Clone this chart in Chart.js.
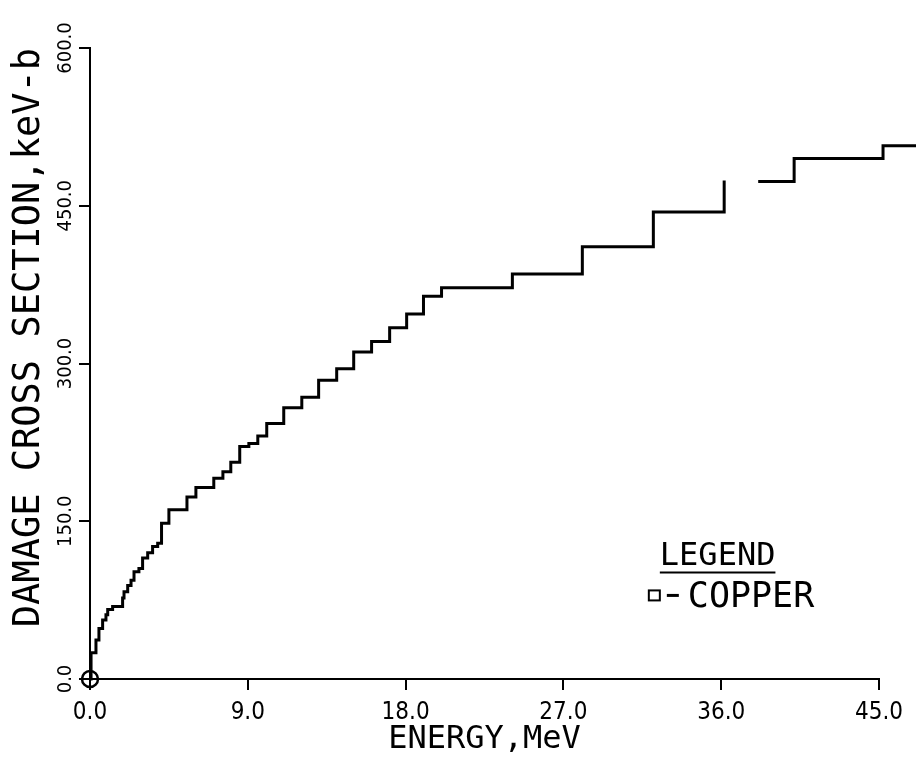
<!DOCTYPE html>
<html>
<head>
<meta charset="utf-8">
<title>Damage cross section - copper</title>
<script src="https://cdn.jsdelivr.net/npm/chart.js@4.4.1/dist/chart.umd.min.js"></script>
<style>
  html, body { margin: 0; padding: 0; background: #fff; }
  #chart { display: block; }
</style>
</head>
<body>
<canvas id="chart" width="916" height="765"></canvas>
<script>
// step positions (MeV) and the value reached after each step (keV-b)
const energyMeV = [0, 0.06, 0.34, 0.51, 0.72, 0.91, 1.01, 1.29, 1.86, 1.94, 2.15, 2.34, 2.51, 2.79,
  3.00, 3.29, 3.57, 3.86, 4.08, 4.50, 5.53, 6.04, 7.06, 7.58, 8.03, 8.54, 9.06, 9.57, 10.08,
  11.05, 12.08, 13.04, 14.07, 15.04, 16.06, 17.09, 18.06, 19.02, 20.05, 24.09, 28.08, 32.13,
  36.17, 37.10, 38.11, 40.16, 45.23, 47.20];
const copperDamage = [0, 25, 37, 48, 56, 61, 66, 69, 77, 83, 89, 94, 102, 105,
  115, 120, 126, 129, 148, 161, 173, 182, 191, 197, 206, 221, 224, 231, 243,
  258, 268, 284, 295, 311, 321, 334, 347, 364, 372, 385, 411, 444,
  474, null, 473, 495, 507, 507];

const xTicks = [0, 9, 18, 27, 36, 45];
const yTicks = [0, 150, 300, 450, 600];

const tickFamily = '"DejaVu Sans Condensed", "Liberation Sans Narrow", "DejaVu Sans", sans-serif';
const monoFamily = '"DejaVu Sans Mono", monospace';

const points = energyMeV.map((e, i) => ({ x: e, y: copperDamage[i] }));

// the little "LEGEND / - COPPER" box inside the plot
const legendBox = {
  id: 'legendBox',
  afterDatasetsDraw(chart) {
    const { ctx, scales: { x, y } } = chart;
    const left = x.getPixelForValue(32.5);
    const base = y.getPixelForValue(108);
    ctx.save();
    ctx.fillStyle = '#000';
    ctx.strokeStyle = '#000';
    ctx.textBaseline = 'alphabetic';
    ctx.textAlign = 'left';
    ctx.font = '32px ' + monoFamily;
    ctx.fillText('LEGEND', left, base);
    const w = ctx.measureText('LEGEND').width;
    ctx.lineWidth = 2;
    ctx.beginPath();
    ctx.moveTo(left, base + 7);
    ctx.lineTo(left + w, base + 7);
    ctx.stroke();
    ctx.strokeRect(left - 11, base + 25, 11, 10);
    ctx.lineWidth = 3;
    ctx.beginPath();
    ctx.moveTo(left + 7, base + 30);
    ctx.lineTo(left + 19, base + 30);
    ctx.stroke();
    ctx.font = '35px ' + monoFamily;
    ctx.fillText(chart.data.datasets[0].label, left + 28, base + 42);
    ctx.restore();
  }
};

new Chart(document.getElementById('chart'), {
  type: 'line',
  data: {
    datasets: [{
      label: 'COPPER',
      data: points,
      stepped: 'before',
      borderColor: '#000',
      borderWidth: 3,
      fill: false,
      spanGaps: false,
      clip: false,
      pointStyle: 'circle',
      pointRadius: ctx => ctx.dataIndex === 0 ? 8 : 0,
      pointBorderWidth: 2.5,
      pointBorderColor: '#000',
      pointBackgroundColor: 'rgba(0,0,0,0)'
    }]
  },
  options: {
    responsive: false,
    devicePixelRatio: 1,
    animation: false,
    layout: { padding: { left: 0, top: 48, right: 37, bottom: 0 } },
    plugins: {
      legend: { display: false },
      tooltip: { enabled: false }
    },
    scales: {
      x: {
        type: 'linear',
        // range set here (not as min/max options) so the tail past 45 MeV is still drawn
        afterDataLimits: s => { s.min = 0; s.max = 45; },
        afterBuildTicks: s => { s.ticks = xTicks.map(v => ({ value: v })); },
        afterFit: s => { s.height = 86; },
        border: { display: true, color: '#000', width: 2 },
        grid: { drawOnChartArea: false, drawTicks: true, tickLength: 11, color: '#000', lineWidth: 2 },
        ticks: {
          color: '#000',
          padding: 8,
          maxRotation: 0,
          font: { family: tickFamily, size: 24 },
          callback: v => v.toFixed(1)
        },
        title: {
          display: true,
          text: 'ENERGY,MeV',
          color: '#000',
          font: { family: monoFamily, size: 32 },
          padding: { top: 0, bottom: 6 }
        }
      },
      y: {
        type: 'linear',
        afterDataLimits: s => { s.min = 0; s.max = 600; },
        afterBuildTicks: s => { s.ticks = yTicks.map(v => ({ value: v })); },
        afterFit: s => { s.width = 90; },
        border: { display: true, color: '#000', width: 2 },
        grid: { drawOnChartArea: false, drawTicks: true, tickLength: 11, color: '#000', lineWidth: 2 },
        ticks: {
          color: '#000',
          minRotation: 90,
          maxRotation: 90,
          crossAlign: 'center',
          padding: -13,
          font: { family: tickFamily, size: 20 },
          callback: v => v.toFixed(1)
        },
        title: {
          display: true,
          text: 'DAMAGE CROSS SECTION,keV-b',
          align: 'end',
          color: '#000',
          font: { family: monoFamily, size: 37 },
          padding: { top: 7, bottom: 0 }
        }
      }
    }
  },
  plugins: [legendBox]
});
</script>
</body>
</html>
